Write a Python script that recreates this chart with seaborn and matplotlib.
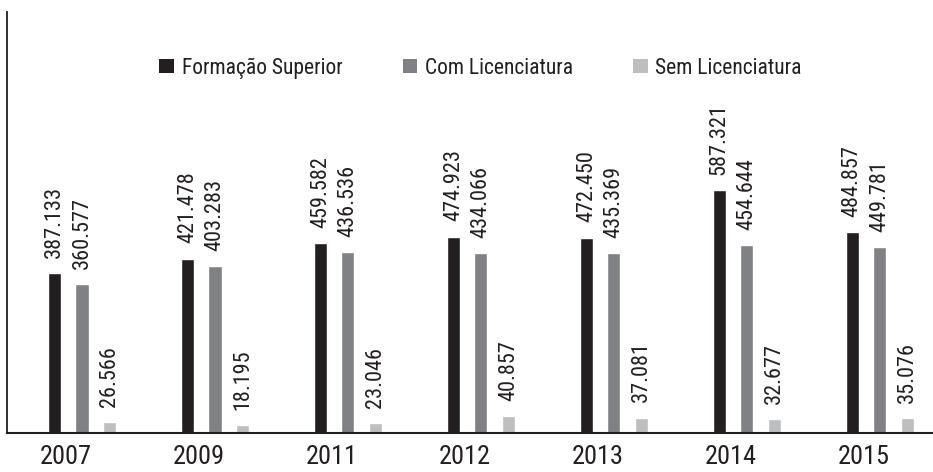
import matplotlib
matplotlib.use("Agg")
import matplotlib.pyplot as plt
from matplotlib import font_manager as fm
import matplotlib.transforms as mtransforms
from matplotlib.patches import Patch
import seaborn as sns
import pandas as pd

years = ["2007", "2009", "2011", "2012", "2013", "2014", "2015"]
series = ["Formação Superior", "Com Licenciatura", "Sem Licenciatura"]
formacao_superior = [387133, 421478, 459582, 474923, 472450, 587321, 484857]
com_licenciatura = [360577, 403283, 436536, 434066, 435369, 454644, 449781]
sem_licenciatura = [26566, 18195, 23046, 40857, 37081, 32677, 35076]
colors = ["#231f20", "#808184", "#bcbec0"]

rows = []
for name, vals in zip(series, [formacao_superior, com_licenciatura, sem_licenciatura]):
    for y, v in zip(years, vals):
        rows.append({"Ano": y, "Série": name, "Valor": v})
df = pd.DataFrame(rows)

sns.set_style("white")

# pick a condensed sans font if one is installed
available = set(f.name for f in fm.fontManager.ttflist)
fam = "DejaVu Sans"
for cand in ["Roboto Condensed", "Liberation Sans Narrow", "Archivo Narrow",
             "PT Sans Narrow", "Open Sans Condensed"]:
    if cand in available:
        fam = cand
        break
plt.rcParams["font.family"] = [fam, "DejaVu Sans"]
txt = "#231f20"

fig = plt.figure(figsize=(9.33, 4.72), dpi=100)
ax = fig.add_axes([6.5 / 933, 39 / 472, 1 - 6.5 / 933, 421 / 472])

sns.barplot(data=df, x="Ano", y="Valor", hue="Série", hue_order=series,
            palette=colors, width=0.62, gap=0.525, saturation=1,
            ax=ax, legend=False)

ax.set_ylim(0, 1018000)
ax.set_xlim(-0.568, 6.4)
ax.set_xlabel("")
ax.set_ylabel("")
ax.set_yticks([])

def fmt(v):
    return f"{v:,}".replace(",", ".")

for cont, vals in zip(ax.containers, [formacao_superior, com_licenciatura, sem_licenciatura]):
    ax.bar_label(cont, labels=[fmt(v) for v in vals], padding=11, rotation=90,
                 fontsize=16, color=txt)

ax.tick_params(axis="x", length=0, labelsize=19, labelcolor=txt, pad=9)
offset = mtransforms.ScaledTranslation(-16 / 100, 0, fig.dpi_scale_trans)
for lab in ax.get_xticklabels():
    lab.set_transform(lab.get_transform() + offset)

for s in ["top", "right"]:
    ax.spines[s].set_visible(False)
ax.spines["left"].set_color(txt)
ax.spines["left"].set_linewidth(1.3)
ax.spines["bottom"].set_color(txt)
ax.spines["bottom"].set_linewidth(1.5)

handles = [Patch(facecolor=c, edgecolor="none") for c in colors]
fig.legend(handles, series, loc="center left", bbox_to_anchor=(140 / 933, 1 - 68 / 472),
           ncol=3, frameon=False, fontsize=15.5, handlelength=0.68, handleheight=0.68,
           handletextpad=0.35, columnspacing=2.8, labelcolor=txt)

fig.savefig("out.png", dpi=100)
